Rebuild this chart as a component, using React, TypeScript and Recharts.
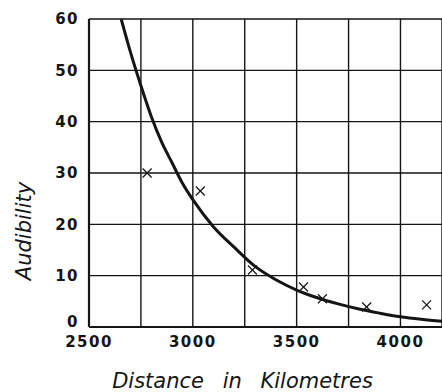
import {
  CartesianGrid,
  ComposedChart,
  Line,
  Scatter,
  XAxis,
  YAxis,
} from "recharts";

// smooth fitted curve
const curveDistance = [2655, 2700, 2750, 2800, 2850, 2900, 2950, 3000, 3100, 3200, 3300, 3400, 3500, 3600, 3700, 3800, 3900, 4000, 4100, 4200];
const curveAudibility = [60, 53.5, 47, 41, 36, 32, 28, 24.8, 19.5, 15.5, 11.8, 9.2, 7.2, 5.7, 4.5, 3.5, 2.7, 2.0, 1.5, 1.1];

// observed points (crosses)
const obsDistance = [2780, 3036, 3287, 3533, 3624, 3837, 4126];
const obsAudibility = [30, 26.5, 11.1, 7.8, 5.5, 3.9, 4.3];

const xTicks = [2500, 2750, 3000, 3250, 3500, 3750, 4000];
const yTicks = [0, 10, 20, 30, 40, 50, 60];

const curve = curveDistance.map((x, i) => ({ x, y: curveAudibility[i] }));
const obs = obsDistance.map((x, i) => ({ x, y: obsAudibility[i] }));

const ink = "#151515";
const tickFont = {
  fontFamily: "DejaVu Sans",
  fontWeight: 700,
  fontSize: 15,
  fill: ink,
  letterSpacing: 1.5,
};

function Cross(props: any) {
  const { cx, cy } = props;
  const s = 4.5;
  return (
    <g stroke={ink} strokeWidth={1.2}>
      <line x1={cx - s} y1={cy - s} x2={cx + s} y2={cy + s} />
      <line x1={cx - s} y1={cy + s} x2={cx + s} y2={cy - s} />
    </g>
  );
}

// y tick; the "0" sits a touch higher so it clears the 2500 below it
function YTick(props: any) {
  const { x, y, payload } = props;
  const lift = payload.value === 0 ? -5 : 0;
  return (
    <text
      x={x}
      y={y + lift}
      dy="0.355em"
      textAnchor="end"
      {...tickFont}
    >
      {payload.value}
    </text>
  );
}

export default function App() {
  return (
    <div style={{ position: "absolute", left: 0, top: 0, background: "#fff" }}>
      <ComposedChart
        width={442}
        height={392}
        margin={{ top: 19, right: 0, bottom: 0, left: 0 }}
      >
        <CartesianGrid stroke={ink} strokeWidth={1.4} />
        <XAxis
          dataKey="x"
          type="number"
          domain={[2500, 4200]}
          ticks={xTicks}
          allowDataOverflow
          height={65}
          tickSize={0}
          tickMargin={9}
          tickLine={false}
          axisLine={{ stroke: ink, strokeWidth: 2.2 }}
          tick={tickFont}
          tickFormatter={(v: number) => (v % 500 === 0 ? String(v) : "")}
          label={{
            value: "Distance in Kilometres",
            position: "insideBottom",
            offset: 4,
            dx: -23,
            style: {
              fontFamily: "DejaVu Sans",
              fontStyle: "italic",
              fontSize: 21,
              fill: ink,
              wordSpacing: 12,
            },
          }}
        />
        <YAxis
          dataKey="y"
          type="number"
          domain={[0, 60]}
          ticks={yTicks}
          allowDataOverflow
          width={89}
          tickSize={0}
          tickMargin={10}
          tickLine={false}
          axisLine={{ stroke: ink, strokeWidth: 2.2 }}
          tick={<YTick />}
          label={{
            value: "Audibility",
            angle: -90,
            position: "insideLeft",
            offset: 24,
            dy: 58,
            style: {
              fontFamily: "DejaVu Sans",
              fontStyle: "italic",
              fontSize: 21,
              fill: ink,
              textAnchor: "middle",
            },
          }}
        />
        <Line
          data={curve}
          dataKey="y"
          type="monotone"
          stroke={ink}
          strokeWidth={3}
          dot={false}
          isAnimationActive={false}
        />
        <Scatter
          data={obs}
          dataKey="y"
          shape={<Cross />}
          isAnimationActive={false}
        />
      </ComposedChart>
    </div>
  );
}
